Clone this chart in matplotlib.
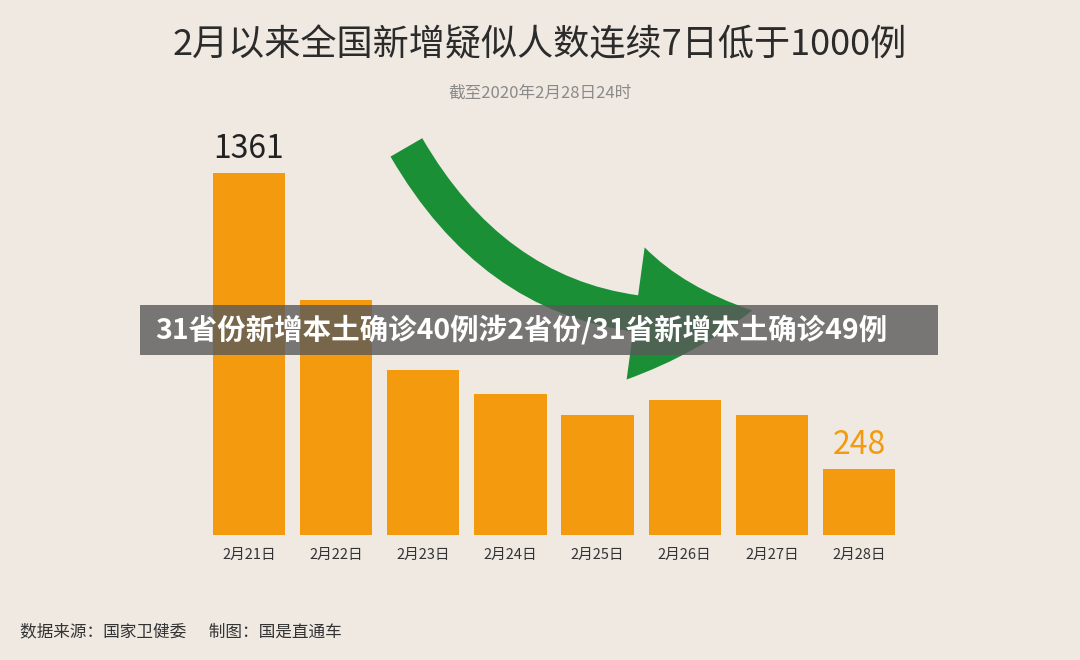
import matplotlib
matplotlib.use("Agg")
import matplotlib.pyplot as plt
from matplotlib.patches import FancyArrowPatch, Rectangle

plt.rcParams['font.family'] = ['Noto Sans CJK SC', 'DejaVu Sans']

dates = ["2月21日", "2月22日", "2月23日", "2月24日", "2月25日", "2月26日", "2月27日", "2月28日"]
values = [1361, 882, 620, 530, 452, 509, 452, 248]

W, H = 1080, 660
fig = plt.figure(figsize=(W/100, H/100), dpi=100)
fig.patch.set_facecolor("#efe9e2")

ax = fig.add_axes([205.5/W, 125/H, 697/W, 362/H])
ax.set_facecolor("none")
bar_c = "#f39a0f"
ax.bar(range(len(values)), values, width=0.83, color=bar_c)
ax.set_xlim(-0.5, 7.5)
ax.set_ylim(0, 1361)
ax.axis("off")
for i, d in enumerate(dates):
    ax.text(i, -75, d, ha="center", va="center", fontsize=10.5, color="#333333", fontweight="medium")
ax.text(0, values[0] + 30, str(values[0]), ha="center", va="bottom", fontsize=23, color="#222222")
ax.text(7, values[7] + 30, str(values[7]), ha="center", va="bottom", fontsize=23, color=bar_c)

fig.text(0.5, 1 - 45/H, "2月以来全国新增疑似人数连续7日低于1000例", ha="center", va="center",
         fontsize=26, color="#2b2b2b", fontweight="medium")
fig.text(0.5, 1 - 93/H, "截至2020年2月28日24时", ha="center", va="center", fontsize=12, color="#8a8a8a")

arr = FancyArrowPatch((405/W, 1 - 145/H), (755/W, 1 - 310/H), transform=fig.transFigure,
                      connectionstyle="arc3,rad=0.35",
                      arrowstyle="simple,head_width=8,head_length=7,tail_width=2.2",
                      mutation_scale=12, color="#1a8f35", lw=0)
fig.patches.append(arr)

fig.patches.append(Rectangle((140/W, 1 - 355/H), 798/W, 50/H, transform=fig.transFigure,
                             facecolor="#5a5a5a", alpha=0.8, edgecolor="none"))
fig.text(155/W, 1 - 330/H, "31省份新增本土确诊40例涉2省份/31省新增本土确诊49例", ha="left", va="center",
         fontsize=20.5, color="white", fontweight="bold")

fig.text(20/W, 1 - 632/H, "数据来源：国家卫健委      制图：国是直通车", ha="left", va="center",
         fontsize=12, color="#333333")

fig.savefig("out.png", dpi=100, facecolor=fig.get_facecolor())
